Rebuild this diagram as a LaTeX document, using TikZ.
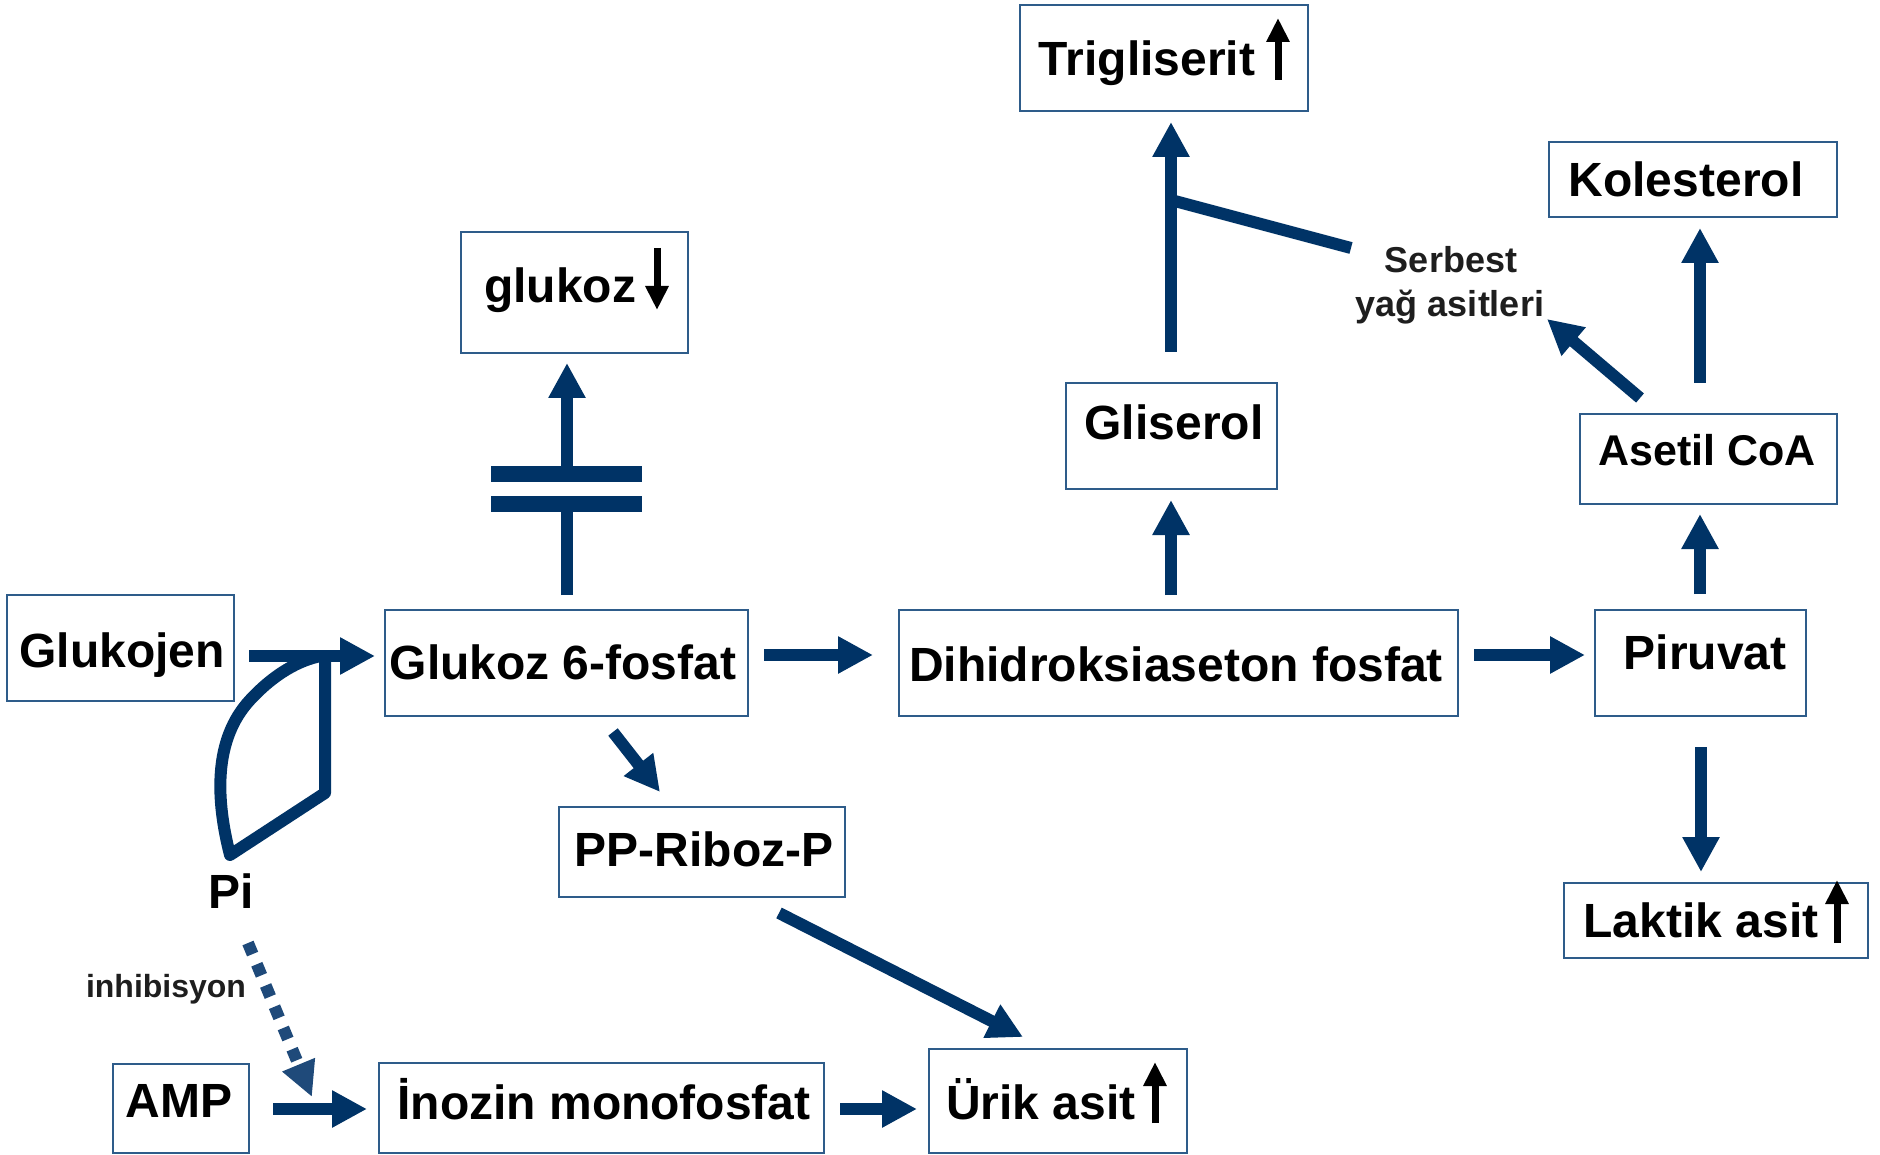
\documentclass[tikz,border=0pt]{standalone}
\usepackage{fontspec}
\setmainfont{Liberation Sans}
\usetikzlibrary{arrows.meta,calc}
\definecolor{navy}{HTML}{003366}
\definecolor{navyd}{HTML}{1F4A7A}
\definecolor{boxc}{HTML}{2E5C8A}
\definecolor{graytxt}{HTML}{1E1E1E}
\begin{document}
\begin{tikzpicture}[x=1pt,y=-1pt,
  box/.style={draw=boxc, line width=1.5pt, fill=none, inner sep=0pt, outer sep=0pt},
  lbl/.style={font=\bfseries\fontsize{48}{56}\selectfont, inner sep=0pt, anchor=base, text=black},
  small/.style={font=\bfseries\fontsize{36}{44}\selectfont, inner sep=0pt, anchor=base, text=graytxt},
  arr/.style={draw=navy, line width=12pt, -{Triangle[width=35pt,length=35pt]}},
  bararr/.style={draw=navy, line width=12pt},
  capbar/.style={draw=navy, line width=16pt},
  barr/.style={draw=black, line width=7pt, -{Triangle[width=22pt,length=24pt]}},
  dasharr/.style={draw=navyd, line width=12pt, dash pattern=on 12pt off 11pt, -{Triangle[width=33pt,length=35pt]}}
]
\useasboundingbox (0,0) rectangle (1880,1155);
\fill[white] (0,0) rectangle (1880,1155);

% boxes
\node[box, minimum width=288pt, minimum height=106pt] (trig) at (1164,58) {};
\node[box, minimum width=227pt, minimum height=121pt] (gluk) at (574.5,292.5) {};
\node[box, minimum width=288pt, minimum height=75pt] (kol) at (1693,179.5) {};
\node[box, minimum width=211pt, minimum height=106pt] (glis) at (1171.5,436) {};
\node[box, minimum width=257pt, minimum height=90pt] (aset) at (1708.5,459) {};
\node[box, minimum width=227pt, minimum height=106pt] (gkj) at (120.5,648) {};
\node[box, minimum width=363pt, minimum height=106pt] (g6p) at (566.5,663) {};
\node[box, minimum width=559pt, minimum height=106pt] (dhap) at (1178.5,663) {};
\node[box, minimum width=211pt, minimum height=106pt] (pir) at (1700.5,663) {};
\node[box, minimum width=286pt, minimum height=90pt] (pp) at (702,852) {};
\node[box, minimum width=304pt, minimum height=75pt] (lak) at (1716,920.5) {};
\node[box, minimum width=136pt, minimum height=89pt] (amp) at (181,1108.5) {};
\node[box, minimum width=445pt, minimum height=90pt] (imp) at (601.5,1108) {};
\node[box, minimum width=258pt, minimum height=104pt] (urik) at (1058,1101) {};

% labels
\node[lbl] (ttrig) at (1147,76) {Trigliserit};
\node[lbl] (tgluk) at (560,303) {glukoz};
\node[lbl] (tkol) at (1686,197) {Kolesterol};
\node[lbl] (tglis) at (1174,440) {Gliserol};
\node[lbl, font=\bfseries\fontsize{43}{52}\selectfont] (taset) at (1707,465) {Asetil CoA};
\node[lbl] (tgkj) at (122,667) {Glukojen};
\node[lbl] (tg6p) at (563,679) {Glukoz 6-fosfat};
\node[lbl] (tdhap) at (1176,681) {Dihidroksiaseton fosfat};
\node[lbl] (tpir) at (1705,669) {Piruvat};
\node[lbl] (tpp) at (704,866) {PP-Riboz-P};
\node[lbl] (tlak) at (1701,937) {Laktik asit};
\node[lbl] (tamp) at (179,1117) {AMP};
\node[lbl] (timp) at (604,1119) {İnozin monofosfat};
\node[lbl] (turik) at (1041,1119) {Ürik asit};
\node[lbl] (pi) at (231,908) {Pi};
\node[small] (fa1) at (1451,273) {Serbest};
\node[small] (fa2) at (1450,317) {yağ asitleri};
\node[font=\bfseries\fontsize{32}{38}\selectfont, inner sep=0pt, anchor=base, text=graytxt] (inh) at (166,997) {inhibisyon};

% small black arrows inside boxes
\draw[barr] ($(trig.north)+(114,75)$) -- ($(trig.north)+(114,13)$);
\draw[barr] ($(gluk.north)+(82.5,16)$) -- ($(gluk.north)+(82.5,78)$);
\draw[barr] ($(lak.north)+(121,60)$) -- ($(lak.north)+(121,-3)$);
\draw[barr] ($(urik.north)+(97,74)$) -- ($(urik.north)+(97,13)$);

% main arrows
\draw[arr] ($(gkj.east)+(15,8)$) -- ($(g6p.west)+(-10,-7)$);
\draw[arr] ($(g6p.east)+(16,-8)$) -- ($(dhap.west)+(-26,-8)$);
\draw[arr] ($(dhap.east)+(16,-8)$) -- ($(pir.west)+(-10,-8)$);
\draw[arr] ($(g6p.south)+(46.5,16)$) -- ($(pp.north)+(-42,-15)$);
\draw[arr] ($(dhap.north)+(-7.5,-15)$) -- ($(glis.south)+(-0.5,11)$);
\draw[arr] ($(glis.north)+(-0.5,-31)$) -- ($(trig.south)+(7,11)$);
\draw[bararr] ($(trig.south)+(7,89)$) -- ($(fa1.base)+(-100,-25)$);
\draw[arr] ($(aset.north)+(-68.5,-16)$) -- ($(fa2.base)+(97,2)$);
\draw[arr] ($(aset.north)+(-8.5,-31)$) -- ($(kol.south)+(7,11)$);
\draw[arr] ($(pir.north)+(-0.5,-16)$) -- ($(aset.south)+(-8.5,10)$);
\draw[arr] ($(pir.south)+(0.5,31)$) -- ($(lak.north)+(-15,-11)$);
\draw[arr] ($(pp.south)+(77,16)$) -- ($(urik.north)+(-35,-12)$);
\draw[arr] ($(amp.east)+(24,0.5)$) -- ($(imp.west)+(-12,1)$);
\draw[arr] ($(imp.east)+(16,1)$) -- ($(urik.west)+(-12,8)$);

% inhibition (dashed)
\draw[dasharr] ($(pi.base)+(17,35)$) -- ($(imp.west)+(-67,-11)$);

% blocked G6P -> glukoz
\coordinate (cap) at ($(g6p.north)+(0.5,-121)$);
\draw[bararr] ($(g6p.north)+(0.5,-15)$) -- ($(cap)+(0,15)$);
\draw[arr] ($(cap)+(0,-15)$) -- ($(gluk.south)+(-7.5,10)$);
\draw[capbar] ($(cap)+(-76,15)$) -- ($(cap)+(75,15)$);
\draw[capbar] ($(cap)+(-76,-15)$) -- ($(cap)+(75,-15)$);

% Pi loop
\coordinate (pitop) at ($(gkj.east)+(91,8)$);
\coordinate (picorner) at ($(gkj.east)+(91,145)$);
\coordinate (pibot) at ($(pi.base)+(-1,-53)$);
\draw[navy, line width=12pt, line join=round, line cap=butt]
  (pitop) -- (picorner) -- (pibot)
  .. controls (216,800) and (213,740) .. (250,700)
  .. controls (275,673) and (300,660) .. ($(pitop)+(-4,0)$);
\end{tikzpicture}
\end{document}
